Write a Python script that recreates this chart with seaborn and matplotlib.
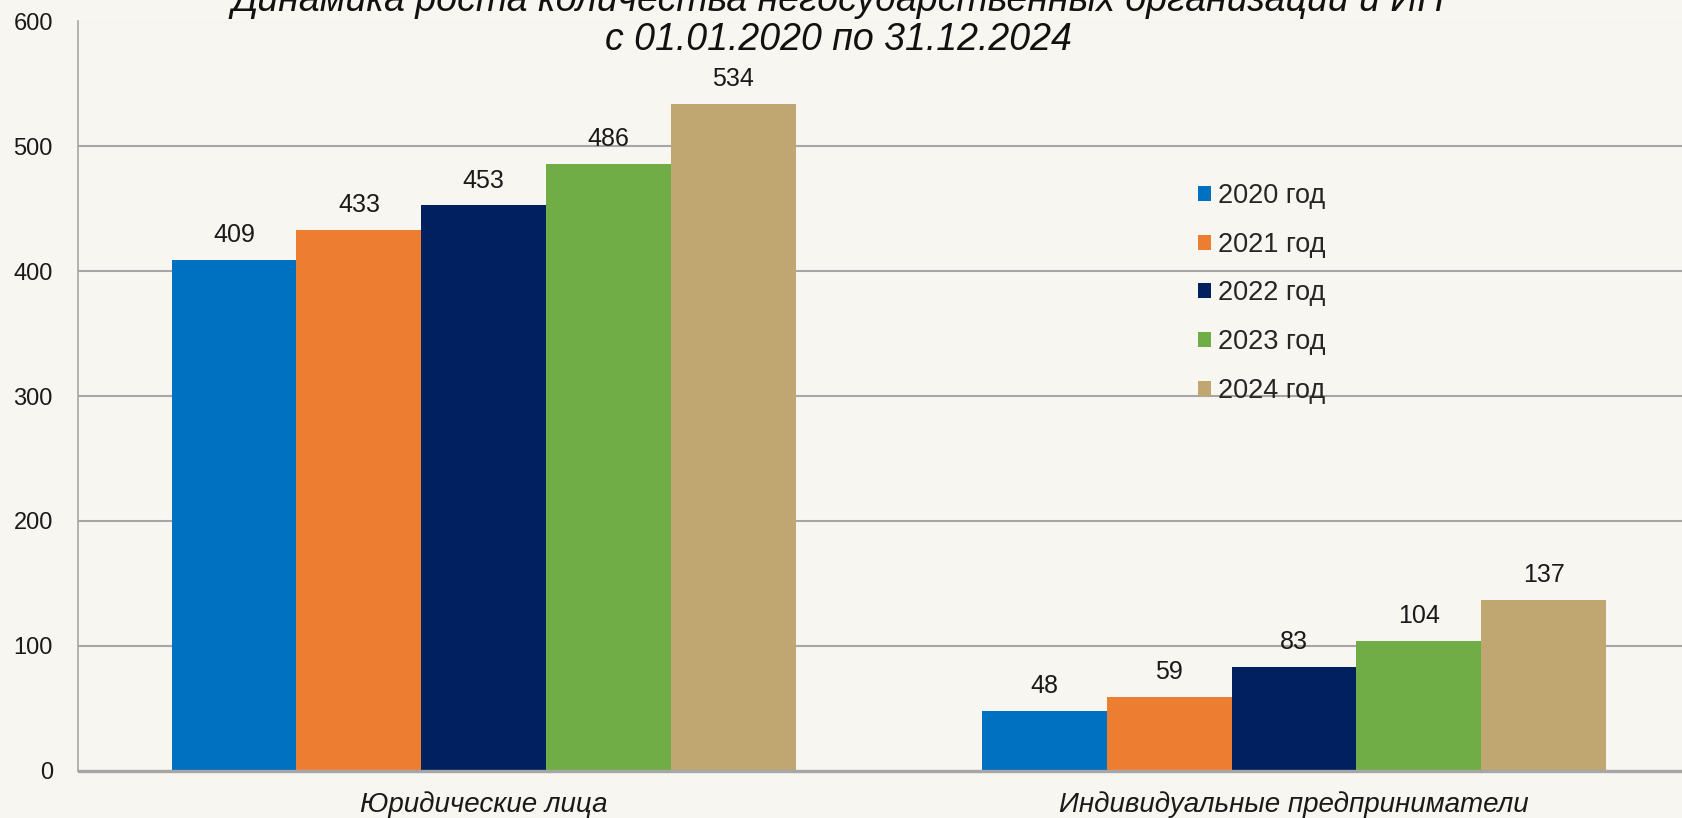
import pandas as pd
import seaborn as sns
import matplotlib.pyplot as plt
from matplotlib.patches import Patch

# Chart data
categories = ['Юридические лица', 'Индивидуальные предприниматели']
years = ['2020 год', '2021 год', '2022 год', '2023 год', '2024 год']
legal_entities = [409, 433, 453, 486, 534]
entrepreneurs = [48, 59, 83, 104, 137]
colors = ['#0070C0', '#ED7D31', '#002060', '#70AD47', '#C0A670']

# Long-format table for seaborn
df = pd.DataFrame({
    'category': [categories[0]] * len(years) + [categories[1]] * len(years),
    'year': years + years,
    'value': legal_entities + entrepreneurs,
})

sns.set_theme(style='white')
plt.rcParams['font.family'] = ['Liberation Sans', 'DejaVu Sans']

W, H = 1683, 818
bg = '#F8F6F0'
fig = plt.figure(figsize=(W / 100, H / 100), dpi=100, facecolor=bg)
ax = fig.add_axes([78.5 / W, (H - 770.6) / H, 1 - 78.5 / W, (770.6 - 21.5) / H])
ax.set_facecolor(bg)

sns.barplot(data=df, x='category', y='value', hue='year', hue_order=years,
            palette=colors, width=0.77, saturation=1, ax=ax, legend=False,
            edgecolor='none', linewidth=0)

# Value labels above bars
for cont in ax.containers:
    ax.bar_label(cont, padding=9, fontsize=18, color='#1a1a1a')

ax.set_ylim(0, 600)
ax.set_xlim(-0.5, 1.48)
ax.set_yticks(range(0, 601, 100))
ax.yaxis.grid(True, color='#A6A6A6', linewidth=1.5)
ax.set_axisbelow(True)
ax.set_xlabel('')
ax.set_ylabel('')

# Category ticks on boundaries, labels centered under groups
ax.set_xticks([-0.5, 0.5], labels=['', ''])
ax.tick_params(axis='x', length=7, color='#A6A6A6', width=1.2, direction='out')
ax.tick_params(axis='y', length=5.5, color='#A6A6A6', width=1.2, labelsize=17,
               pad=13, labelcolor='#1a1a1a')
for i, name in enumerate(categories):
    ax.text(i, -0.046, name, transform=ax.get_xaxis_transform(), ha='center',
            va='center', fontsize=20, style='italic', color='#1a1a1a')

for side in ['top', 'right']:
    ax.spines[side].set_visible(False)
ax.spines['left'].set_color('#A6A6A6')
ax.spines['left'].set_linewidth(1.2)
ax.spines['bottom'].set_color('#A6A6A6')
ax.spines['bottom'].set_linewidth(2.4)

handles = [Patch(facecolor=c, edgecolor='none') for c in colors]
fig.legend(handles, years, loc='upper left', bbox_to_anchor=(1198 / W, 1 - 183 / H),
           frameon=False, fontsize=19.5, handlelength=0.48, handleheight=0.48,
           handletextpad=0.25, labelspacing=0.84, borderpad=0, borderaxespad=0)

# Title, first line cropped at the top as in the source
fig.text(838 / W, 1.0, 'Динамика роста количества негосударственных организаций и ИП',
         ha='center', va='center', fontsize=27, style='italic', color='#111111')
fig.text(838 / W, 1 - 40 / H, 'с 01.01.2020 по 31.12.2024',
         ha='center', va='center', fontsize=27, style='italic', color='#111111')

fig.savefig('out.png', dpi=100, facecolor=bg)
